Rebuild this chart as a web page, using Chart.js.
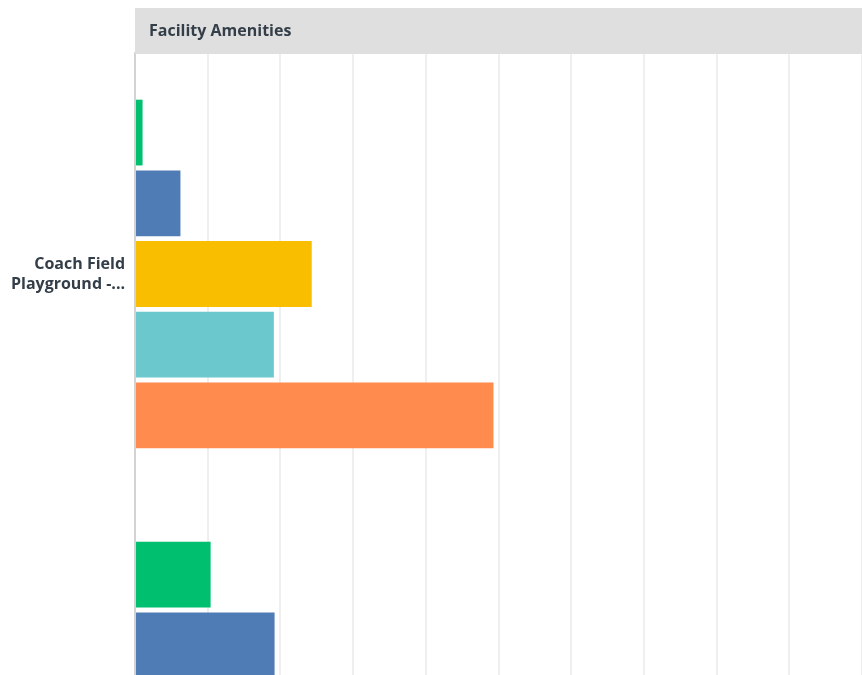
<!DOCTYPE html>
<html>
<head>
<meta charset="utf-8">
<script src="https://cdn.jsdelivr.net/npm/chart.js@4.4.1/dist/chart.umd.min.js"></script>
<style>
  html, body { margin: 0; padding: 0; background: #ffffff; overflow: hidden; }
  canvas { display: block; }
</style>
</head>
<body>
<canvas id="c" width="862" height="967" style="width:862px;height:967px"></canvas>
<script>
// ---- data ----
const chartTitle = "Facility Amenities";
const categories = [["Coach Field", "Playground -..."], ""];
const seriesNames = ["Series 1", "Series 2", "Series 3", "Series 4", "Series 5"];
const series1 = [1.04, 10.4];
const series2 = [6.25, 19.2];
const series3 = [24.31, null];
const series4 = [19.10, null];
const series5 = [49.31, null];
const seriesColors = ["#00BF6F", "#507CB6", "#F9BE00", "#6BC8CD", "#FF8B4F"];
const xTicks = [0, 10, 20, 30, 40, 50, 60, 70, 80, 90, 100];

const FONT = "'Open Sans', 'Noto Sans', sans-serif";
const TEXT = "#333E48";

const allSeries = [series1, series2, series3, series4, series5];

const headerPlugin = {
  id: 'header',
  afterDraw(chart) {
    const { ctx, chartArea } = chart;
    ctx.save();
    ctx.fillStyle = '#DFDFDF';
    ctx.fillRect(chartArea.left, 8, chartArea.right - chartArea.left, 46);
    ctx.fillStyle = TEXT;
    ctx.font = "bold 16px " + FONT;
    ctx.textBaseline = 'middle';
    ctx.textAlign = 'left';
    ctx.fillText(chartTitle, chartArea.left + 14, 31);
    ctx.restore();
  }
};

new Chart(document.getElementById('c'), {
  type: 'bar',
  data: {
    labels: categories,
    datasets: allSeries.map((d, i) => ({
      label: seriesNames[i],
      data: d,
      backgroundColor: seriesColors[i],
      borderWidth: 0,
      barPercentage: 0.93,
      categoryPercentage: 0.8
    }))
  },
  options: {
    indexAxis: 'y',
    responsive: false,
    maintainAspectRatio: false,
    animation: false,
    devicePixelRatio: 1,
    layout: { padding: { top: 53, left: 0, right: 0, bottom: 0 } },
    plugins: {
      legend: { display: false },
      tooltip: { enabled: false },
      title: { display: false }
    },
    scales: {
      x: {
        min: 0,
        max: 100,
        afterBuildTicks(scale) { scale.ticks = xTicks.map(v => ({ value: v })); },
        ticks: { display: false },
        grid: { color: '#EFEFEF', lineWidth: 2, drawTicks: false },
        border: { display: false }
      },
      y: {
        afterFit(scale) { scale.width = 135; },
        grid: { display: false, drawTicks: false },
        border: { display: true, color: '#D3D3D3', width: 2 },
        ticks: {
          padding: 10,
          color: TEXT,
          font: { family: FONT, size: 16, weight: 'bold', lineHeight: 1.25 }
        }
      }
    }
  },
  plugins: [headerPlugin]
});
</script>
</body>
</html>
